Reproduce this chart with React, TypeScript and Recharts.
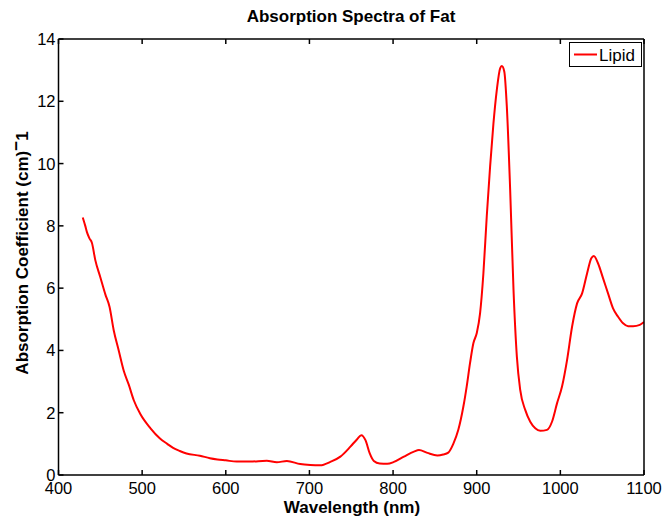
import { LineChart, Line, XAxis, YAxis } from "recharts";

const wavelengths = [
  429, 432, 434, 437, 440, 444, 450, 456, 461, 466, 472, 478, 484, 490, 498,
  510, 521, 530, 537, 545, 553, 569, 581, 590, 600, 613, 629, 649, 661, 673,
  689, 701, 713, 725, 737, 749, 757, 762, 767, 772, 777, 784, 793, 801, 813,
  825, 831, 841, 853, 860, 866, 872, 878, 884, 888, 892, 896, 900, 904, 908,
  912, 916, 920, 924, 928, 930, 933, 936, 940, 944, 948, 952, 958, 964, 970,
  976, 984, 990, 996, 1002, 1008, 1014, 1020, 1026, 1032, 1037, 1040, 1045,
  1051, 1057, 1063, 1069, 1075, 1081, 1087, 1095, 1100,
];
const lipid = [
  8.27, 8.0, 7.8, 7.6, 7.45, 6.9, 6.35, 5.8, 5.4, 4.65, 4.0, 3.35, 2.9, 2.4,
  1.95, 1.5, 1.18, 1.0, 0.87, 0.77, 0.69, 0.62, 0.54, 0.5, 0.47, 0.43, 0.43,
  0.46, 0.41, 0.45, 0.35, 0.32, 0.31, 0.42, 0.59, 0.91, 1.15, 1.28, 1.12, 0.7,
  0.45, 0.37, 0.36, 0.42, 0.59, 0.75, 0.8, 0.71, 0.63, 0.66, 0.72, 1.0, 1.45,
  2.19, 2.84, 3.59, 4.23, 4.55, 5.19, 6.48, 8.3, 9.9, 11.29, 12.36, 13.06,
  13.13, 12.95, 11.83, 9.15, 5.94, 3.8, 2.73, 2.09, 1.71, 1.5, 1.42, 1.45,
  1.71, 2.3, 2.84, 3.69, 4.76, 5.51, 5.83, 6.48, 6.96, 7.03, 6.8, 6.32, 5.83,
  5.35, 5.08, 4.87, 4.78, 4.78, 4.82, 4.91,
];
const xTicks = [400, 500, 600, 700, 800, 900, 1000, 1100];
const yTicks = [0, 2, 4, 6, 8, 10, 12, 14];

const data = wavelengths.map((w, i) => ({ w, lipid: lipid[i] }));

const FONT = "'Liberation Sans', Arial, Helvetica, sans-serif";
const TICK_LEN = 5;

// ticks point inward, MATLAB style
const bottomTick = (p: any) => (
  <g>
    <line x1={p.x} y1={p.y} x2={p.x} y2={p.y - TICK_LEN} stroke="#000" strokeWidth={1.5} />
    <text x={p.x} y={p.y + 19} textAnchor="middle" fontSize={16.5} fontFamily={FONT} fill="#000">
      {p.payload.value}
    </text>
  </g>
);
const topTick = (p: any) => (
  <line x1={p.x} y1={p.y} x2={p.x} y2={p.y + TICK_LEN} stroke="#000" strokeWidth={1.5} />
);
const leftTick = (p: any) => (
  <g>
    <line x1={p.x} y1={p.y} x2={p.x + TICK_LEN} y2={p.y} stroke="#000" strokeWidth={1.5} />
    <text x={p.x - 3} y={p.y + 6} textAnchor="end" fontSize={16.5} fontFamily={FONT} fill="#000">
      {p.payload.value}
    </text>
  </g>
);
const rightTick = (p: any) => (
  <line x1={p.x} y1={p.y} x2={p.x - TICK_LEN} y2={p.y} stroke="#000" strokeWidth={1.5} />
);

export default function App() {
  return (
    <div style={{ position: "absolute", left: 0, top: 0, width: 667, height: 518, background: "#fff" }}>
      <LineChart width={667} height={518} data={data} margin={{ top: 0, right: 0, bottom: 0, left: 0 }}>
        <text x={351} y={22} textAnchor="middle" fontSize={17} fontWeight="bold" fontFamily={FONT} fill="#000">
          Absorption Spectra of Fat
        </text>
        <text x={352} y={513} textAnchor="middle" fontSize={17} fontWeight="bold" fontFamily={FONT} fill="#000">
          Wavelength (nm)
        </text>
        <text
          transform="translate(28, 253) rotate(-90)"
          textAnchor="middle"
          fontSize={17}
          fontWeight="bold"
          fontFamily={FONT}
          fill="#000"
        >
          Absorption Coefficient (cm)
          <tspan dy={-6}>−</tspan>
          <tspan dy={6}>1</tspan>
        </text>
        <XAxis
          xAxisId="b"
          dataKey="w"
          type="number"
          domain={[400, 1100]}
          ticks={xTicks}
          allowDataOverflow
          height={43}
          tickSize={0}
          tickMargin={0}
          tickLine={false}
          axisLine={{ stroke: "#000", strokeWidth: 1.5 }}
          tick={bottomTick}
          interval={0}
        />
        <XAxis
          xAxisId="t"
          orientation="top"
          dataKey="w"
          type="number"
          domain={[400, 1100]}
          ticks={xTicks}
          height={39}
          tickSize={0}
          tickMargin={0}
          tickLine={false}
          axisLine={{ stroke: "#000", strokeWidth: 1.5 }}
          tick={topTick}
          interval={0}
        />
        <YAxis
          yAxisId="l"
          type="number"
          domain={[0, 14]}
          ticks={yTicks}
          width={58.5}
          tickSize={0}
          tickMargin={0}
          tickLine={false}
          axisLine={{ stroke: "#000", strokeWidth: 1.5 }}
          tick={leftTick}
          interval={0}
        />
        <YAxis
          yAxisId="r"
          orientation="right"
          type="number"
          domain={[0, 14]}
          ticks={yTicks}
          width={23}
          tickSize={0}
          tickMargin={0}
          tickLine={false}
          axisLine={{ stroke: "#000", strokeWidth: 1.5 }}
          tick={rightTick}
          interval={0}
        />
        <Line
          xAxisId="b"
          yAxisId="l"
          dataKey="lipid"
          name="Lipid"
          type="monotone"
          stroke="#ff0000"
          strokeWidth={2}
          dot={false}
          isAnimationActive={false}
        />
        {/* legend box, drawn in the plot's top-right corner */}
        <g>
          <rect x={569.5} y={42.5} width={72} height={24} fill="#fff" stroke="#000" strokeWidth={1} />
          <line x1={574} y1={54.5} x2={597} y2={54.5} stroke="#ff0000" strokeWidth={2} />
          <text x={599} y={60.5} fontSize={17} fontFamily={FONT} fill="#000">
            Lipid
          </text>
        </g>
      </LineChart>
    </div>
  );
}
